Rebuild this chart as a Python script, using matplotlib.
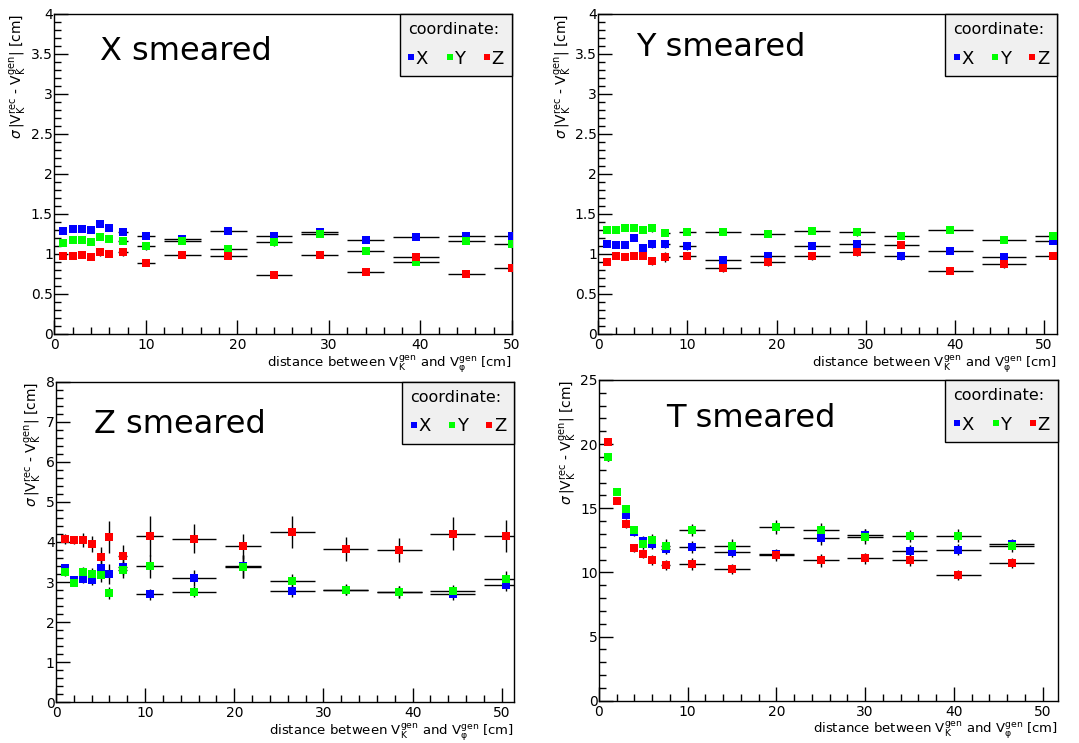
import matplotlib.pyplot as plt
from matplotlib.lines import Line2D
from matplotlib.ticker import MultipleLocator, FormatStrFormatter

plt.rcParams['font.family'] = ['DejaVu Sans']
plt.rcParams['mathtext.default'] = 'regular'

colors = {'X': '#0000ff', 'Y': '#00ff00', 'Z': '#ff0000'}

# X smeared
x_xs = [1, 2, 3, 4, 5, 6, 7.5, 10, 14, 19, 24, 29, 34, 39.5, 45, 50]
xerr_xs = [0, 0, 0, 0, 0, 0, 0.5, 1, 2, 2, 2, 2, 2, 2.5, 2, 2]
xs_X = [1.29, 1.315, 1.315, 1.30, 1.38, 1.32, 1.27, 1.23, 1.19, 1.29, 1.22, 1.28, 1.18, 1.21, 1.22, 1.23]
xs_Y = [1.14, 1.17, 1.17, 1.15, 1.215, 1.19, 1.16, 1.10, 1.16, 1.065, 1.15, 1.25, 1.04, 0.90, 1.16, 1.12]
xs_Z = [0.98, 0.98, 0.99, 0.96, 1.02, 1.00, 1.02, 0.89, 0.99, 0.975, 0.74, 0.99, 0.78, 0.96, 0.75, 0.83]
xs_Xe = [0.02, 0.02, 0.02, 0.02, 0.03, 0.03, 0.03, 0.03, 0.02, 0.03, 0.03, 0.03, 0.03, 0.03, 0.04, 0.04]
xs_Ye = [0.02, 0.02, 0.02, 0.03, 0.04, 0.04, 0.03, 0.05, 0.04, 0.04, 0.05, 0.04, 0.03, 0.03, 0.04, 0.04]
xs_Ze = [0.02, 0.02, 0.02, 0.03, 0.04, 0.04, 0.04, 0.03, 0.04, 0.04, 0.03, 0.03, 0.04, 0.04, 0.03, 0.05]

# Y smeared
x_ys = [1, 2, 3, 4, 5, 6, 7.5, 10, 14, 19, 24, 29, 34, 39.5, 45.5, 51]
xerr_ys = [0, 0, 0, 0, 0, 0, 0.5, 1, 2, 2, 2, 2, 2, 2.5, 2.5, 2]
ys_X = [1.13, 1.11, 1.11, 1.20, 1.08, 1.12, 1.12, 1.095, 0.925, 0.97, 1.10, 1.13, 0.98, 1.04, 0.96, 1.16]
ys_Y = [1.30, 1.30, 1.33, 1.33, 1.30, 1.32, 1.26, 1.27, 1.28, 1.245, 1.29, 1.27, 1.23, 1.30, 1.18, 1.22]
ys_Z = [0.90, 0.975, 0.96, 0.98, 0.975, 0.91, 0.965, 0.98, 0.82, 0.895, 0.97, 1.03, 1.11, 0.79, 0.87, 0.975]
ys_Xe = [0.02, 0.02, 0.02, 0.03, 0.03, 0.04, 0.04, 0.05, 0.04, 0.05, 0.04, 0.04, 0.05, 0.03, 0.03, 0.04]
ys_Ye = [0.02, 0.02, 0.02, 0.02, 0.03, 0.04, 0.03, 0.03, 0.03, 0.03, 0.04, 0.04, 0.04, 0.03, 0.03, 0.03]
ys_Ze = [0.02, 0.02, 0.02, 0.03, 0.04, 0.05, 0.06, 0.04, 0.05, 0.04, 0.04, 0.05, 0.04, 0.04, 0.04, 0.04]

# Z smeared
x_zs = [1, 2, 3, 4, 5, 6, 7.5, 10.5, 15.5, 21, 26.5, 32.5, 38.5, 44.5, 50.5]
xerr_zs = [0, 0, 0, 0, 0, 0, 0.5, 1.5, 2.5, 2, 2.5, 2.5, 2.5, 2.5, 2.5]
zs_X = [3.36, 3.05, 3.07, 3.04, 3.34, 3.20, 3.37, 2.69, 3.11, 3.39, 2.78, 2.80, 2.74, 2.69, 2.92]
zs_Y = [3.24, 2.97, 3.26, 3.20, 3.17, 2.73, 3.30, 3.39, 2.76, 3.385, 3.03, 2.81, 2.76, 2.78, 3.085]
zs_Z = [4.08, 4.05, 4.05, 3.96, 3.63, 4.12, 3.66, 4.15, 4.08, 3.89, 4.25, 3.825, 3.80, 4.21, 4.15]
zs_Xe = [0.08, 0.06, 0.10, 0.12, 0.20, 0.25, 0.20, 0.13, 0.20, 0.29, 0.15, 0.13, 0.15, 0.14, 0.15]
zs_Ye = [0.08, 0.06, 0.12, 0.15, 0.18, 0.15, 0.20, 0.29, 0.14, 0.28, 0.18, 0.14, 0.15, 0.14, 0.20]
zs_Ze = [0.12, 0.10, 0.17, 0.20, 0.24, 0.40, 0.27, 0.50, 0.36, 0.32, 0.41, 0.29, 0.30, 0.41, 0.39]

# T smeared
x_ts = [1, 2, 3, 4, 5, 6, 7.5, 10.5, 15, 20, 25, 30, 35, 40.5, 46.5]
xerr_ts = [0, 0, 0, 0, 0, 0, 0.5, 1.5, 2, 2, 2, 2, 2, 2.5, 2.5]
ts_X = [18.97, 16.27, 14.45, 13.12, 12.47, 12.21, 11.82, 12.0, 11.62, 11.46, 12.66, 12.92, 11.67, 11.77, 12.24]
ts_Y = [18.97, 16.27, 14.97, 13.28, 12.24, 12.5, 12.08, 13.3, 12.08, 13.51, 13.28, 12.79, 12.84, 12.86, 12.06]
ts_Z = [20.2, 15.57, 13.8, 11.93, 11.46, 10.99, 10.6, 10.65, 10.24, 11.33, 10.94, 11.1, 10.94, 9.82, 10.76]
ts_Xe = [0.25, 0.25, 0.3, 0.3, 0.35, 0.4, 0.4, 0.45, 0.4, 0.4, 0.5, 0.5, 0.45, 0.45, 0.4]
ts_Ye = [0.25, 0.25, 0.3, 0.3, 0.4, 0.5, 0.5, 0.5, 0.5, 0.55, 0.55, 0.6, 0.5, 0.5, 0.45]
ts_Ze = [0.3, 0.25, 0.3, 0.3, 0.35, 0.4, 0.4, 0.45, 0.4, 0.45, 0.5, 0.45, 0.45, 0.4, 0.4]

panels = [
    ('X smeared', [0.0503, 0.5505, 0.4242, 0.4307], 50, 4, 0.5, 0.1,
     x_xs, xerr_xs, (xs_X, xs_Xe), (xs_Y, xs_Ye), (xs_Z, xs_Ze), (0.10, 0.856)),
    ('Y smeared', [0.5545, 0.5505, 0.4254, 0.4307], 51.5, 4, 0.5, 0.1,
     x_ys, xerr_ys, (ys_X, ys_Xe), (ys_Y, ys_Ye), (ys_Z, ys_Ze), (0.082, 0.869)),
    ('Z smeared', [0.0519, 0.0548, 0.4247, 0.4315], 51.4, 8, 1, 0.2,
     x_zs, xerr_zs, (zs_X, zs_Xe), (zs_Y, zs_Ye), (zs_Z, zs_Ze), (0.084, 0.839)),
    ('T smeared', [0.5551, 0.0569, 0.4252, 0.4317], 51.7, 25, 5, 1,
     x_ts, xerr_ts, (ts_X, ts_Xe), (ts_Y, ts_Ye), (ts_Z, ts_Ze), (0.1475, 0.854)),
]

ylabel = r'$\mathit{\sigma}\,|V_{K}^{rec}$ - $V_{K}^{gen}|$ [cm]'
xlabel = r'distance between $V_{K}^{gen}$ and $V_{\varphi}^{gen}$ [cm]'

fig = plt.figure(figsize=(10.79, 7.43), dpi=100)

for title, rect, xmax, ymax, ymaj, ymin, x, xerr, sx, sy, sz, tpos in panels:
    ax = fig.add_axes(rect)
    for name, (vals, errs) in zip(['X', 'Y', 'Z'], [sx, sy, sz]):
        ax.errorbar(x, vals, xerr=xerr, yerr=errs, fmt='s', color=colors[name],
                    ms=5.5, mew=0, ecolor='black', elinewidth=1,
                    capsize=1.5, capthick=1, zorder=3)
    ax.set_xlim(0, xmax)
    ax.set_ylim(0, ymax)
    ax.xaxis.set_major_locator(MultipleLocator(10))
    ax.xaxis.set_minor_locator(MultipleLocator(2))
    ax.yaxis.set_major_locator(MultipleLocator(ymaj))
    ax.yaxis.set_minor_locator(MultipleLocator(ymin))
    ax.yaxis.set_major_formatter(FormatStrFormatter('%g'))
    ax.tick_params(which='both', direction='in', top=False, right=False,
                   labelsize=10)
    ax.tick_params(axis='y', pad=1)
    ax.tick_params(axis='x', pad=3)
    ax.tick_params(which='major', length=10, width=1)
    ax.tick_params(which='minor', length=5, width=1)
    for sp in ax.spines.values():
        sp.set_linewidth(1)
    ax.set_xlabel(xlabel, loc='right', fontsize=9.5, labelpad=1)
    ax.set_ylabel(ylabel, loc='top', fontsize=10, labelpad=1)
    ax.text(tpos[0], tpos[1], title, transform=ax.transAxes, fontsize=23,
            ha='left', va='baseline')
    handles = [Line2D([], [], marker='s', ls='', color=colors[n], ms=5, mew=0)
               for n in ['X', 'Y', 'Z']]
    leg = ax.legend(handles, ['X', 'Y', 'Z'], title='coordinate:', ncol=3,
                    loc='upper right', bbox_to_anchor=(1, 1), fancybox=False,
                    edgecolor='black', facecolor='#f0f0f0', framealpha=1,
                    fontsize=13, title_fontsize=11.5, handlelength=0.4,
                    handletextpad=0.05, columnspacing=1.0, borderaxespad=0,
                    borderpad=0.45, labelspacing=0.7, alignment='left')
    leg.get_frame().set_linewidth(1)

fig.savefig('out.png', dpi=100)
